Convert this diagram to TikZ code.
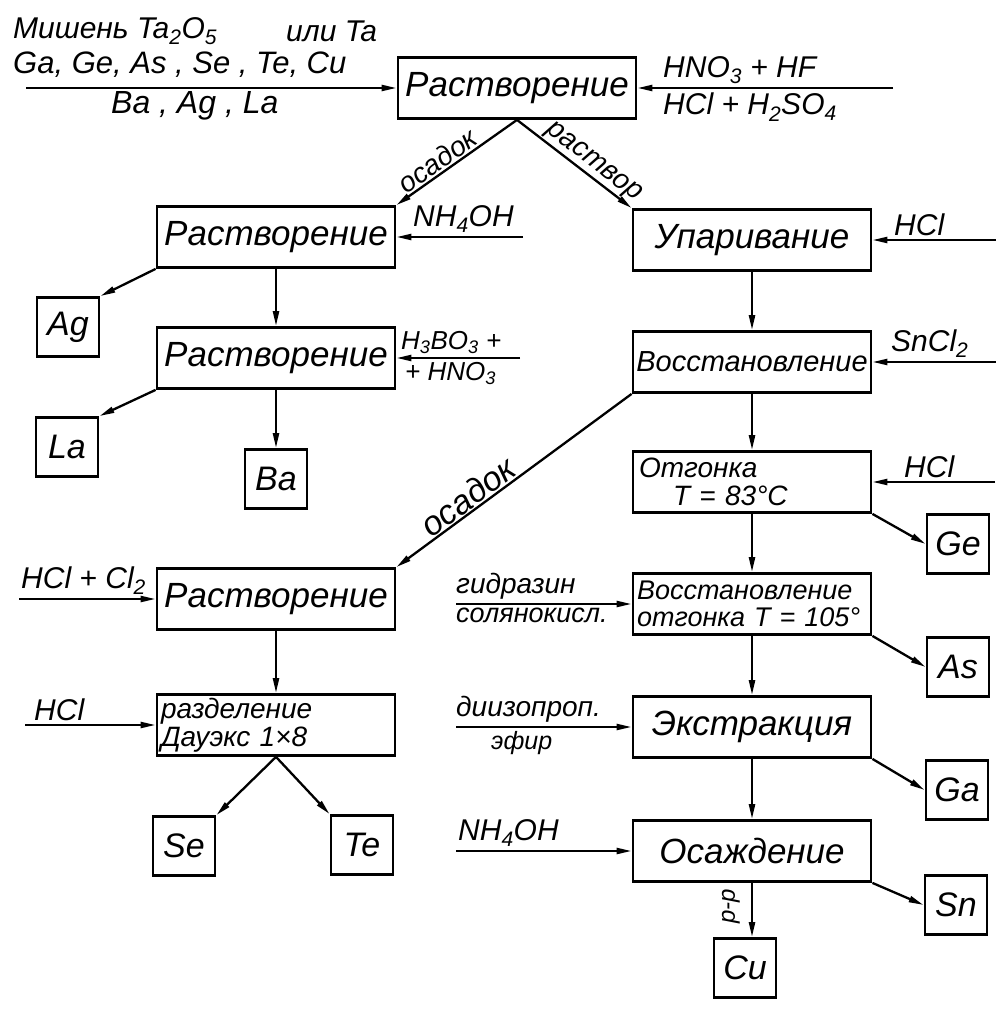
\documentclass[tikz,border=0pt]{standalone}
\usepackage{fontspec}
\setmainfont{Liberation Sans}
\usepackage{tikz}
\usetikzlibrary{arrows.meta,positioning}
\newcommand{\chsub}[1]{\textsubscript{#1}}
\newcommand{\fsz}[1]{\fontsize{#1}{#1}\selectfont\itshape}

\begin{document}
\begin{tikzpicture}[x=1pt, y=-1pt,
  stage/.style={draw, line width=2.8pt, minimum width=238pt, minimum height=61pt, inner sep=2pt},
  elem/.style={draw, line width=2.8pt, minimum width=62pt, minimum height=59pt, inner sep=0pt, font=\fsz{34}},
  flow/.style={line width=2.3pt, -{Triangle[length=15pt,width=6pt]}},
  note/.style={inner sep=1pt, font=\fsz{30}}]
\useasboundingbox (0,0) rectangle (995,1016);
% process steps
\node[stage, font=\fsz{35}] (rast1) at (517,88) {Растворение};
\node[stage, font=\fsz{35}] (rast2) at (276,237) {Растворение};
\node[stage, font=\fsz{35}] (rast3) at (276,358) {Растворение};
\node[stage, font=\fsz{35}] (rast4) at (276,599) {Растворение};
\node[stage, font=\fsz{28}, text width=230pt, align=left] (sep) at (276,725)
  {разделение\\Дауэкс 1×8};
\node[stage, font=\fsz{35}] (upar) at (752,240) {Упаривание};
\node[stage, font=\fsz{29}] (vosst) at (752,362) {Восстановление};
\node[stage, font=\fsz{28}, text width=226pt, align=left] (otg) at (752,482)
  {Отгонка\\\hspace*{34pt}T = 83°C};
\node[stage, font=\fsz{27}, text width=230pt, align=left] (vosst2) at (752,604)
  {Восстановление\\отгонка T = 105°};
\node[stage, font=\fsz{35}] (extr) at (752,727) {Экстракция};
\node[stage, font=\fsz{35}] (osazh) at (752,851) {Осаждение};
% products
\node[elem] (ag) at (68,327) {Ag};
\node[elem] (la) at (67,447) {La};
\node[elem] (ba) at (276,479) {Ba};
\node[elem] (se) at (184,846) {Se};
\node[elem] (te) at (362,845) {Te};
\node[elem] (ge) at (958,544) {Ge};
\node[elem] (as) at (958,667) {As};
\node[elem] (ga) at (957,790) {Ga};
\node[elem] (sn) at (956,905) {Sn};
\node[elem] (cu) at (745,968) {Cu};
% target and acids
\node[note, font=\fsz{30}, anchor=west] (mishen) at (12,31) {Мишень Ta\chsub{2}O\chsub{5}};
\node[note, font=\fsz{30}, anchor=west] (ili) at (285,31) {или Ta};
\node[note, font=\fsz{31}, anchor=west] (elall) at (12,65) {Ga, Ge, As , Se , Te, Cu};
\node[note, font=\fsz{32}, anchor=west] (elbal) at (110,106) {Ba , Ag , La};
\coordinate (intarget) at (26,88);
\draw[flow] (intarget) -- (rast1.west);
\coordinate (inacid) at (893,88);
\draw[flow] (inacid) -- (rast1.east);
\node[note, anchor=south west] (hno) at (662,85) {HNO\chsub{3} + HF};
\node[note, anchor=north west] (hcls) at (662,92) {HCl + H\chsub{2}SO\chsub{4}};
% left branch
\draw[flow] (rast1.south) -- (rast2.north east)
  node[pos=0.6, sloped, above, inner sep=1pt, font=\fsz{28}] (lbos1) {осадок};
\coordinate (innh1) at (523,237);
\draw[flow] (innh1) -- (rast2.east);
\node[note, anchor=south west] (nh1) at (412,234) {NH\chsub{4}OH};
\draw[flow] (rast2.south west) -- (ag.north east);
\draw[flow] (rast2) -- (rast3);
\coordinate (inbor) at (520,358);
\draw[flow] (inbor) -- (rast3.east);
\node[note, font=\fsz{26}, anchor=south west] (bor) at (400,355) {H\chsub{3}BO\chsub{3} +};
\node[note, font=\fsz{26}, anchor=north west] (hno2) at (404,361) {+ HNO\chsub{3}};
\draw[flow] (rast3.south west) -- (la.north east);
\draw[flow] (rast3) -- (ba);
% right branch
\draw[flow] (rast1.south) -- (upar.north west)
  node[pos=0.6, sloped, above, inner sep=1pt, font=\fsz{28}] (lbrr) {раствор};
\coordinate (inhcl1) at (998,240);
\draw[flow] (inhcl1) -- (upar.east);
\node[note, anchor=south west] (hcl1) at (893,237) {HCl};
\draw[flow] (upar) -- (vosst);
\coordinate (insn) at (998,362);
\draw[flow] (insn) -- (vosst.east);
\node[note, anchor=south west] (sncl) at (890,359) {SnCl\chsub{2}};
\draw[flow] (vosst) -- (otg);
\coordinate (inhcl2) at (995,482);
\draw[flow] (inhcl2) -- (otg.east);
\node[note, anchor=south west] (hcl2) at (903,479) {HCl};
\draw[flow] (otg.south east) -- (ge.west);
% precipitate to Se, Te
\draw[flow] (vosst.south west) -- (rast4.north east)
  node[pos=0.66, sloped, above, inner sep=1pt, font=\fsz{34}] (lbos2) {осадок};
\coordinate (inhcl3) at (19,599);
\draw[flow] (inhcl3) -- (rast4.west);
\node[note, anchor=south west] (hclcl) at (20,596) {HCl + Cl\chsub{2}};
\draw[flow] (rast4) -- (sep);
\coordinate (inhcl4) at (25,725);
\draw[flow] (inhcl4) -- (sep.west);
\node[note, anchor=south west] (hcl4) at (33,722) {HCl};
\draw[flow] (sep.south) -- (se.north east);
\draw[flow] (sep.south) -- (te.north west);
% Ge, As, Ga, Sn, Cu
\draw[flow] (otg) -- (vosst2);
\coordinate (inhyd) at (456,604);
\draw[flow] (inhyd) -- (vosst2.west);
\node[note, font=\fsz{28}, anchor=south west] (hyd) at (455,601) {гидразин};
\node[note, font=\fsz{27}, anchor=north west] (hydb) at (455,607) {солянокисл.};
\draw[flow] (vosst2.south east) -- (as.west);
\draw[flow] (vosst2) -- (extr);
\coordinate (inether) at (456,727);
\draw[flow] (inether) -- (extr.west);
\node[note, font=\fsz{28}, anchor=south west] (ether) at (455,724) {диизопроп.};
\node[note, font=\fsz{25}, anchor=north west] (etherb) at (490,730) {эфир};
\draw[flow] (extr.south east) -- (ga.west);
\draw[flow] (extr) -- (osazh);
\coordinate (innh2) at (456,851);
\draw[flow] (innh2) -- (osazh.west);
\node[note, anchor=south west] (nh2) at (457,848) {NH\chsub{4}OH};
\draw[flow] (osazh.south east) -- (sn.west);
\draw[flow] (osazh.south) -- (osazh.south |- cu.north);
\node[note, font=\fsz{24}, rotate=90] (lbrr2) at (731,906) {р-р};
\end{tikzpicture}
\end{document}
